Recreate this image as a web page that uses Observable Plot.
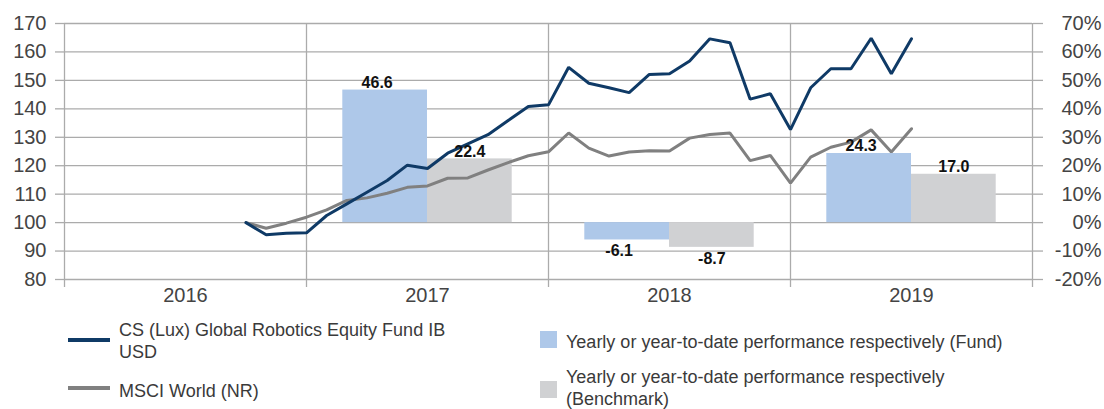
<!DOCTYPE html>
<html><head><meta charset="utf-8">
<script src="https://cdn.jsdelivr.net/npm/d3@7"></script>
<script src="https://cdn.jsdelivr.net/npm/@observablehq/plot@0.6"></script>
<style>
body{margin:0;background:#fff;font-family:"Liberation Sans",Arial,sans-serif;}
#wrap{position:relative;width:1104px;height:409px;overflow:hidden;}
.lg{position:absolute;font-size:18px;line-height:22px;color:#3a3a3a;white-space:nowrap;}
.sw{position:absolute;}
</style></head><body>
<div id="wrap"><div id="chart"></div>
<div class="sw" style="left:68px;top:338px;width:42px;height:4px;background:#0f3a66"></div>
<div class="lg" style="left:119px;top:319px">CS (Lux) Global Robotics Equity Fund IB<br>USD</div>
<div class="sw" style="left:68px;top:386px;width:42px;height:4px;background:#808080"></div>
<div class="lg" style="left:119px;top:380px">MSCI World (NR)</div>
<div class="sw" style="left:540px;top:331px;width:17px;height:17px;background:#aec8e9"></div>
<div class="lg" style="left:566px;top:331px">Yearly or year-to-date performance respectively (Fund)</div>
<div class="sw" style="left:540px;top:381px;width:17px;height:17px;background:#d0d1d3"></div>
<div class="lg" style="left:566px;top:366px">Yearly or year-to-date performance respectively<br>(Benchmark)</div>
</div>
<script>
const months = ["2016-09","2016-10","2016-11","2016-12","2017-01","2017-02","2017-03","2017-04","2017-05","2017-06","2017-07","2017-08","2017-09","2017-10","2017-11","2017-12","2018-01","2018-02","2018-03","2018-04","2018-05","2018-06","2018-07","2018-08","2018-09","2018-10","2018-11","2018-12","2019-01","2019-02","2019-03","2019-04","2019-05","2019-06"];
const fundIndex = [100, 95.7, 96.3, 96.4, 102.5, 106.6, 110.7, 114.8, 120.2, 119.0, 124.4, 127.7, 130.9, 135.9, 140.8, 141.4, 154.6, 149.0, 147.4, 145.7, 152.1, 152.3, 156.8, 164.6, 163.2, 143.4, 145.3, 132.7, 147.4, 154.1, 154.1, 164.8, 152.3, 164.6];
const benchIndex = [100, 98.0, 99.8, 101.9, 104.5, 107.8, 108.7, 110.3, 112.4, 112.9, 115.6, 115.7, 118.5, 121.1, 123.5, 124.9, 131.5, 126.2, 123.4, 124.8, 125.3, 125.2, 129.7, 131.0, 131.5, 121.8, 123.6, 113.9, 123.0, 126.5, 128.3, 132.6, 124.8, 133.0];
const perfYears = [2017, 2018, 2019];
const fundPerf = [46.6, -6.1, 24.3];
const benchPerf = [22.4, -8.7, 17.0];
const yearLabels = [2016, 2017, 2018, 2019];
const leftTicks = [80, 90, 100, 110, 120, 130, 140, 150, 160, 170];

const toX = m => { const [y, mo] = m.split("-").map(Number); return y + mo / 12; };
const fundData = months.map((m, i) => ({x: toX(m), v: fundIndex[i]}));
const benchData = months.map((m, i) => ({x: toX(m), v: benchIndex[i]}));
const bars = perfYears.flatMap((y, i) => [
  {year: y, s: "fund", v: fundPerf[i], x1: y + 0.15, x2: y + 0.5},
  {year: y, s: "bench", v: benchPerf[i], x1: y + 0.5, x2: y + 0.85}
]);
const boundaries = [...yearLabels, yearLabels[yearLabels.length - 1] + 1];
const grid = "#ababab";

const label = (s, pos) => Plot.text(
  bars.filter(d => d.s === s && (pos ? d.v >= 0 : d.v < 0)),
  {x: d => (d.x1 + d.x2) / 2, y: d => 100 + d.v, text: d => d.v.toFixed(1),
   lineAnchor: pos ? "bottom" : "top", dy: pos ? -2 : 5, dx: s === "fund" ? -8 : 0,
   fontWeight: "bold", fontSize: 16, fill: "#111"});

const chart = Plot.plot({
  width: 1104, height: 310,
  marginTop: 23, marginBottom: 31, marginLeft: 64, marginRight: 72,
  style: {fontFamily: "Liberation Sans, Arial, sans-serif", fontSize: "20px", color: "#444", background: "#fff"},
  x: {domain: [2016, 2020]},
  y: {domain: [80, 170]},
  marks: [
    Plot.gridY(leftTicks, {stroke: grid, strokeOpacity: 1, strokeWidth: 1.3}),
    Plot.ruleX(boundaries, {y1: 80, y2: 170, stroke: grid, strokeWidth: 1.3}),
    Plot.axisY(leftTicks, {anchor: "left", tickSize: 9, tickPadding: 9, stroke: grid, strokeWidth: 1.3, label: null, fill: "#444"}),
    Plot.axisY(leftTicks, {anchor: "right", tickSize: 10, tickPadding: 59, textAnchor: "end", tickFormat: d => `${d - 100}%`, stroke: grid, strokeWidth: 1.3, label: null, fill: "#444"}),
    Plot.axisX(boundaries, {anchor: "bottom", tickSize: 8, tickFormat: () => "", stroke: grid, strokeWidth: 1.3, label: null}),
    Plot.axisX(yearLabels.map(y => y + 0.5), {anchor: "bottom", tickSize: 0, tickPadding: 8, tickFormat: d => String(Math.floor(d)), label: null, fill: "#444"}),
    Plot.rect(bars, {x1: "x1", x2: "x2", y1: 100, y2: d => 100 + d.v, fill: d => d.s === "fund" ? "#aec8e9" : "#d0d1d3"}),
    Plot.line(benchData, {x: "x", y: "v", stroke: "#808080", strokeWidth: 3, strokeLinejoin: "miter"}),
    Plot.line(fundData, {x: "x", y: "v", stroke: "#0f3a66", strokeWidth: 3, strokeLinejoin: "miter"}),
    label("fund", true), label("fund", false), label("bench", true), label("bench", false)
  ]
});
document.getElementById("chart").appendChild(chart);
</script>
</body></html>
